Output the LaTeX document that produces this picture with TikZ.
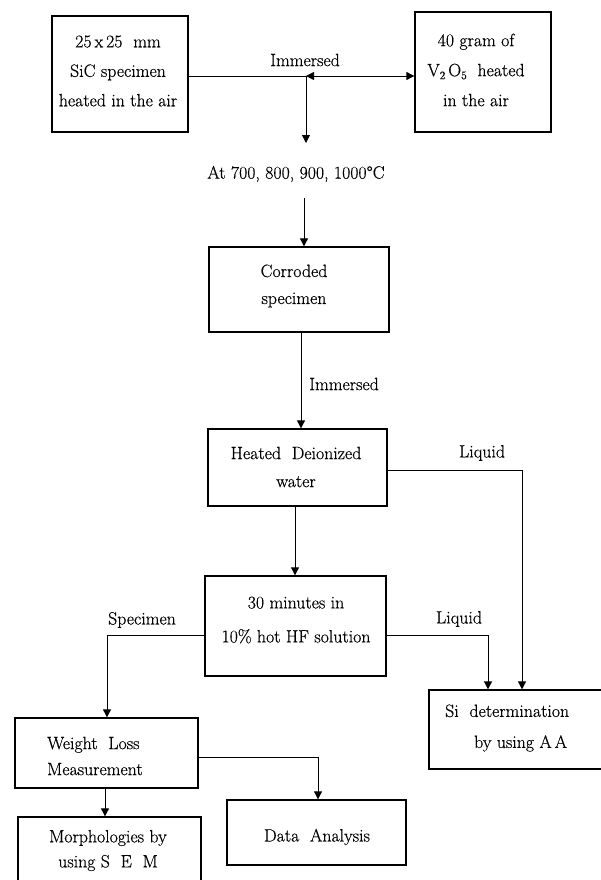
\documentclass[tikz,border=0pt]{standalone}
\usepackage{fontspec}
\setmainfont{Latin Modern Roman}[FakeBold=0.5]
\usetikzlibrary{arrows.meta}
\newcommand\fsz{\fontsize{17.8}{30}\selectfont}
\newcommand\sbs[1]{\raisebox{-3pt}{\fontsize{11.5}{11.5}\selectfont #1}}
\tikzset{
  box/.style={draw, line width=1.3pt, rectangle, inner sep=0pt},
  lbl/.style={inner sep=0pt, font=\fsz, align=center},
  lbll/.style={inner sep=0pt, font=\fsz, align=left, anchor=west},
  conn/.style={line width=0.8pt},
  arr/.style={conn, -{Triangle[length=8pt,width=8pt]}},
  darr/.style={conn, {Triangle[length=8pt,width=8pt]}-{Triangle[length=8pt,width=8pt]}},
}
\begin{document}
\begin{tikzpicture}[x=1pt,y=-1pt]
\useasboundingbox (0,0) rectangle (600,880);

% boxes
\node[box, minimum width=136pt, minimum height=116pt] (b1) at (120,74) {};
\node[box, minimum width=136pt, minimum height=120pt] (b2) at (483,72) {};
\node[box, minimum width=180pt, minimum height=85pt] (b3) at (299,289.5) {};
\node[box, minimum width=179pt, minimum height=77pt] (b4) at (297.5,467.5) {};
\node[box, minimum width=181pt, minimum height=100pt] (b5) at (295.5,626) {};
\node[box, minimum width=183pt, minimum height=70pt] (b6) at (106.5,753) {};
\node[box, minimum width=176pt, minimum height=79pt] (b7) at (517,729.5) {};
\node[box, minimum width=179pt, minimum height=65pt] (b8) at (316.5,832.5) {};
\node[box, minimum width=183pt, minimum height=78pt] (b9) at (109.5,856) {};

% box texts
\node[lbl, font=\fontsize{17.8}{29.5}\selectfont] (b1t) at (118,71) {25\,x\,25~~mm\\SiC specimen\\heated in the air};
\node[lbl, font=\fontsize{17.8}{30}\selectfont] (b2t) at (476,70) {40 gram of\\V\sbs{2}\,O\sbs{5}~~heated\\in the air};
\node[lbl, font=\fontsize{17.8}{27}\selectfont] (b3t) at (294,286) {Corroded\\specimen};
\node[lbl, font=\fontsize{17.8}{28}\selectfont] (b4t) at (296,467) {Heated~~Deionized\\water};
\node[lbl, font=\fontsize{17.8}{34}\selectfont] (b5t) at (296,620) {30 minutes in\\10\% hot HF solution};
\node[lbll, font=\fontsize{17.8}{26}\selectfont] (b6t) at (47,756) {Weight~~Loss\\Measurement};
\node[lbll, font=\fontsize{17.8}{31}\selectfont] (b7t) at (445,728) {Si~~determination\\\hspace{29pt}by using A\,A};
\node[lbl] (b8t) at (317,837) {Data~~Analysis};
\node[lbl, font=\fontsize{17.8}{25}\selectfont] (b9t) at (108,850.5) {Morphologies by\\using~S~~E~~M};

% free texts
\node[lbl] (im1) at (305,60) {Immersed};
\node[lbl] (t1) at (296,174) {At 700, 800, 900, 1000°C};
\node[lbl] (im2) at (344,384) {Immersed};
\node[lbl] (liq1) at (482,453) {Liquid};
\node[lbl] (liq2) at (459,619) {Liquid};
\node[lbl] (spec) at (142,620) {Specimen};

% connectors
\coordinate (J) at (306,76);
\coordinate (Jd) at (306,143);
\coordinate (c1) at (304,198);
\draw[conn] (b1.east |- J) -- (J);
\draw[darr] (J) -- (J -| b2.west);
\draw[arr] (J) -- (Jd);
\draw[arr] (c1) -- (c1 |- b3.north);
\draw[arr] ([xshift=2pt]b3.south) -- ([xshift=3.5pt]b4.north);
\draw[arr] ([xshift=-2.5pt]b4.south) -- ([xshift=-0.5pt]b5.north);
\draw[arr] ([yshift=-2.5pt]b4.east) -| ([xshift=5pt]b7.north);
\draw[arr] ([yshift=-9pt]b5.east) -| ([xshift=-29pt]b7.north);
\draw[arr] ([yshift=-9pt]b5.west) -| ([xshift=0.5pt]b6.north);
\draw[arr] ([yshift=-4pt]b6.east) -| ([xshift=1.5pt]b8.north);
\draw[arr] ([xshift=-1.5pt]b6.south) -- ([xshift=-4.5pt]b9.north);
\end{tikzpicture}
\end{document}
